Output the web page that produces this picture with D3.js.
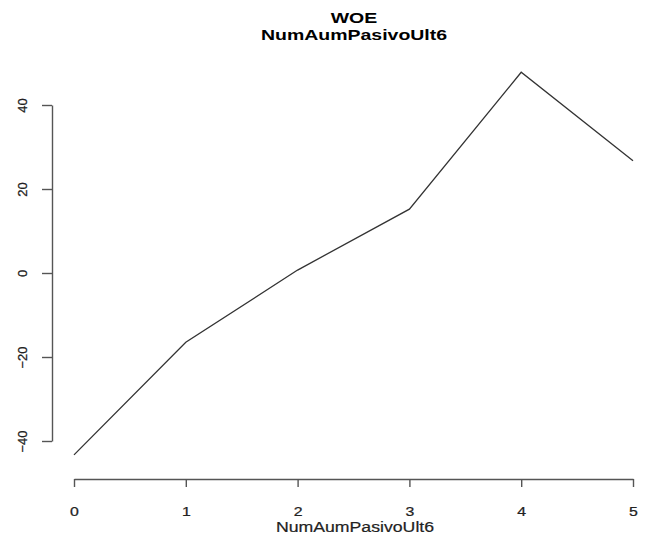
<!DOCTYPE html>
<html>
<head>
<meta charset="utf-8">
<script src="https://cdn.jsdelivr.net/npm/d3@7"></script>
<style>
  body { margin: 0; background: #fff; }
  text { font-family: "Liberation Sans", Arial, sans-serif; }
</style>
</head>
<body>
<script>
const width = 646, height = 535;

// data
const categories = [0, 1, 2, 3, 4, 5];
const woe = [-43.3, -16.5, 0.7, 15.2, 47.8, 26.7];
const yTicks = [-40, -20, 0, 20, 40];

const svg = d3.select("body")
    .append("svg")
    .attr("width", width)
    .attr("height", height);

const x = d3.scaleLinear().domain([0, 5]).range([74, 633]);
const y = d3.scaleLinear().domain([-40, 40]).range([441, 105]);

// the source picture is a bit stretched sideways, so text is widened a little
const stretch = 1.22;

// titles
[["WOE", 22.5], ["NumAumPasivoUlt6", 39.5]].forEach(([t, by]) => {
    svg.append("text")
        .attr("transform", `translate(354,${by}) scale(1.3,1)`)
        .attr("text-anchor", "middle")
        .attr("font-weight", "bold")
        .attr("font-size", "15px")
        .attr("fill", "#000")
        .text(t);
});

// x axis
const xAxis = svg.append("g")
    .attr("transform", "translate(0,479)")
    .call(d3.axisBottom(x).tickValues(categories).tickFormat(d3.format("d"))
        .tickSize(8).tickSizeOuter(0));

xAxis.selectAll(".tick text")
    .attr("y", 0)
    .attr("dy", 0)
    .attr("transform", `translate(0,37) scale(${stretch},1)`);

// y axis
const yAxis = svg.append("g")
    .attr("transform", "translate(52,0)")
    .call(d3.axisLeft(y).tickValues(yTicks).tickSize(10).tickSizeOuter(0));

yAxis.selectAll(".tick text")
    .attr("transform", "rotate(-90)")
    .attr("x", 0)
    .attr("y", -30)
    .attr("dy", "0.35em")
    .attr("text-anchor", "middle");

[xAxis, yAxis].forEach(g => {
    g.select(".domain").attr("stroke", "#555").attr("stroke-width", 1.4);
    g.selectAll(".tick line").attr("stroke", "#555").attr("stroke-width", 1.4);
    g.selectAll(".tick text")
        .attr("font-family", "Liberation Sans, Arial, sans-serif")
        .attr("font-size", "13px")
        .attr("fill", "#222")
        .attr("stroke", "#222")
        .attr("stroke-width", 0.25);
});

// x label
svg.append("text")
    .attr("transform", `translate(355,532) scale(${stretch},1)`)
    .attr("text-anchor", "middle")
    .attr("font-size", "14.5px")
    .attr("fill", "#222")
    .attr("stroke", "#222")
    .attr("stroke-width", 0.2)
    .text("NumAumPasivoUlt6");

// the WOE line
const line = d3.line()
    .x((d, i) => x(categories[i]))
    .y(d => y(d));

svg.append("path")
    .datum(woe)
    .attr("fill", "none")
    .attr("stroke", "#333")
    .attr("stroke-width", 1.3)
    .attr("d", line);
</script>
</body>
</html>
